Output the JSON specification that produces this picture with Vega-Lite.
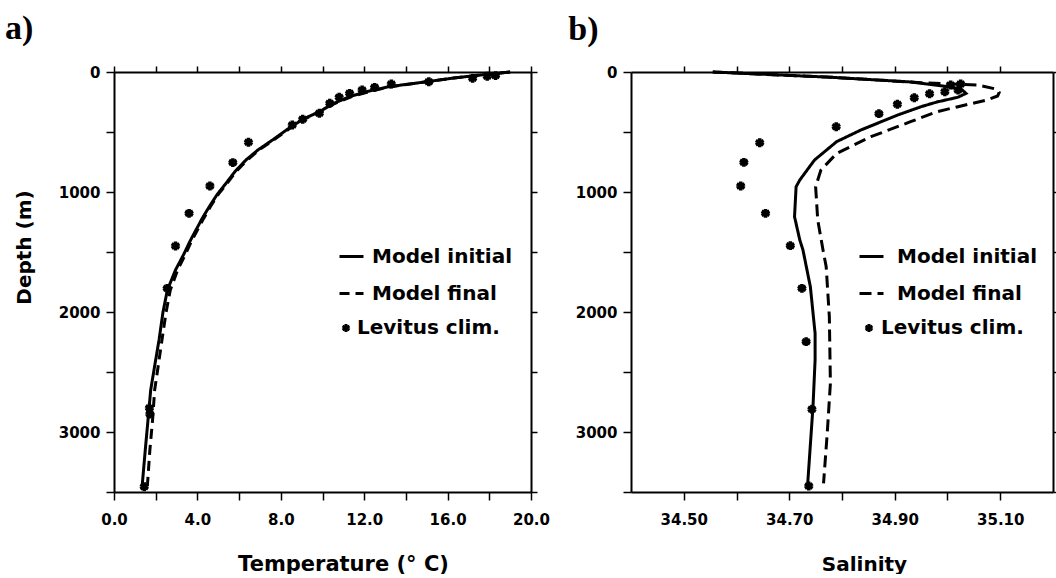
{
  "$schema": "https://vega.github.io/schema/vega-lite/v6.json",
  "background": "white",
  "padding": {"left": 5, "top": 12, "right": 0, "bottom": 0},
  "config": {
    "view": {"stroke": null},
    "font": "DejaVu Sans",
    "axis": {
      "domainColor": "black", "domainWidth": 2, "tickColor": "black", "tickWidth": 1.5, "tickSize": 8,
      "labelFont": "DejaVu Sans", "labelFontWeight": "bold", "labelFontSize": 15, "labelColor": "black",
      "labelFlush": false, "labelOverlap": false,
      "titleFont": "DejaVu Sans", "titleFontWeight": "bold", "titleFontSize": 20, "titleColor": "black",
      "grid": false
    },
    "legend": {
      "orient": "none", "padding": 0, "labelFont": "DejaVu Sans", "labelFontWeight": "bold",
      "labelFontSize": 20, "labelColor": "black", "title": null
    },
    "title": {"font": "Liberation Serif", "fontSize": 34, "fontWeight": "bold", "color": "black", "anchor": "start", "frame": "bounds"}
  },
  "spacing": 18,
  "resolve": {
    "scale": {"strokeDash": "independent", "shape": "independent"},
    "legend": {"strokeDash": "independent", "shape": "independent"}
  },
  "datasets": {
    "temperature": [
      {"series": "Model initial", "depth": 0, "temperature": 19.0},
      {"series": "Model initial", "depth": 25, "temperature": 17.6},
      {"series": "Model initial", "depth": 50, "temperature": 16.3},
      {"series": "Model initial", "depth": 81, "temperature": 15.0},
      {"series": "Model initial", "depth": 122, "temperature": 13.2},
      {"series": "Model initial", "depth": 160, "temperature": 12.2},
      {"series": "Model initial", "depth": 205, "temperature": 11.3},
      {"series": "Model initial", "depth": 265, "temperature": 10.5},
      {"series": "Model initial", "depth": 330, "temperature": 9.86},
      {"series": "Model initial", "depth": 390, "temperature": 9.1},
      {"series": "Model initial", "depth": 455, "temperature": 8.5},
      {"series": "Model initial", "depth": 567, "temperature": 7.6},
      {"series": "Model initial", "depth": 650, "temperature": 6.9},
      {"series": "Model initial", "depth": 733, "temperature": 6.33},
      {"series": "Model initial", "depth": 830, "temperature": 5.8},
      {"series": "Model initial", "depth": 928, "temperature": 5.37},
      {"series": "Model initial", "depth": 1020, "temperature": 4.95},
      {"series": "Model initial", "depth": 1122, "temperature": 4.57},
      {"series": "Model initial", "depth": 1220, "temperature": 4.23},
      {"series": "Model initial", "depth": 1317, "temperature": 3.93},
      {"series": "Model initial", "depth": 1415, "temperature": 3.63},
      {"series": "Model initial", "depth": 1511, "temperature": 3.37},
      {"series": "Model initial", "depth": 1650, "temperature": 2.95},
      {"series": "Model initial", "depth": 1817, "temperature": 2.56},
      {"series": "Model initial", "depth": 2000, "temperature": 2.35},
      {"series": "Model initial", "depth": 2233, "temperature": 2.16},
      {"series": "Model initial", "depth": 2450, "temperature": 1.95},
      {"series": "Model initial", "depth": 2650, "temperature": 1.76},
      {"series": "Model initial", "depth": 2900, "temperature": 1.63},
      {"series": "Model initial", "depth": 3150, "temperature": 1.5},
      {"series": "Model initial", "depth": 3450, "temperature": 1.35},
      {"series": "Model final", "depth": 0, "temperature": 19.0},
      {"series": "Model final", "depth": 25, "temperature": 17.6},
      {"series": "Model final", "depth": 50, "temperature": 16.3},
      {"series": "Model final", "depth": 81, "temperature": 15.0},
      {"series": "Model final", "depth": 122, "temperature": 13.3},
      {"series": "Model final", "depth": 160, "temperature": 12.3},
      {"series": "Model final", "depth": 205, "temperature": 11.4},
      {"series": "Model final", "depth": 265, "temperature": 10.55},
      {"series": "Model final", "depth": 330, "temperature": 9.9},
      {"series": "Model final", "depth": 390, "temperature": 9.15},
      {"series": "Model final", "depth": 455, "temperature": 8.55},
      {"series": "Model final", "depth": 567, "temperature": 7.65},
      {"series": "Model final", "depth": 650, "temperature": 6.95},
      {"series": "Model final", "depth": 733, "temperature": 6.4},
      {"series": "Model final", "depth": 830, "temperature": 5.85},
      {"series": "Model final", "depth": 928, "temperature": 5.42},
      {"series": "Model final", "depth": 1020, "temperature": 5.0},
      {"series": "Model final", "depth": 1122, "temperature": 4.62},
      {"series": "Model final", "depth": 1220, "temperature": 4.3},
      {"series": "Model final", "depth": 1317, "temperature": 4.0},
      {"series": "Model final", "depth": 1415, "temperature": 3.7},
      {"series": "Model final", "depth": 1511, "temperature": 3.45},
      {"series": "Model final", "depth": 1650, "temperature": 3.05},
      {"series": "Model final", "depth": 1817, "temperature": 2.7},
      {"series": "Model final", "depth": 2000, "temperature": 2.5},
      {"series": "Model final", "depth": 2233, "temperature": 2.3},
      {"series": "Model final", "depth": 2450, "temperature": 2.12},
      {"series": "Model final", "depth": 2650, "temperature": 1.95},
      {"series": "Model final", "depth": 2900, "temperature": 1.85},
      {"series": "Model final", "depth": 3150, "temperature": 1.72},
      {"series": "Model final", "depth": 3450, "temperature": 1.6},
      {"series": "Levitus clim.", "depth": 30, "temperature": 18.3},
      {"series": "Levitus clim.", "depth": 35, "temperature": 17.9},
      {"series": "Levitus clim.", "depth": 53, "temperature": 17.2},
      {"series": "Levitus clim.", "depth": 81, "temperature": 15.1},
      {"series": "Levitus clim.", "depth": 100, "temperature": 13.3},
      {"series": "Levitus clim.", "depth": 128, "temperature": 12.5},
      {"series": "Levitus clim.", "depth": 150, "temperature": 11.9},
      {"series": "Levitus clim.", "depth": 178, "temperature": 11.3},
      {"series": "Levitus clim.", "depth": 211, "temperature": 10.8},
      {"series": "Levitus clim.", "depth": 261, "temperature": 10.35},
      {"series": "Levitus clim.", "depth": 344, "temperature": 9.85},
      {"series": "Levitus clim.", "depth": 394, "temperature": 9.05},
      {"series": "Levitus clim.", "depth": 442, "temperature": 8.55},
      {"series": "Levitus clim.", "depth": 586, "temperature": 6.45},
      {"series": "Levitus clim.", "depth": 755, "temperature": 5.7},
      {"series": "Levitus clim.", "depth": 950, "temperature": 4.6},
      {"series": "Levitus clim.", "depth": 1178, "temperature": 3.6},
      {"series": "Levitus clim.", "depth": 1450, "temperature": 2.95},
      {"series": "Levitus clim.", "depth": 1803, "temperature": 2.55},
      {"series": "Levitus clim.", "depth": 2800, "temperature": 1.7},
      {"series": "Levitus clim.", "depth": 2850, "temperature": 1.72},
      {"series": "Levitus clim.", "depth": 3456, "temperature": 1.45}
    ],
    "salinity": [
      {"series": "Model initial", "depth": 0, "salinity": 34.555},
      {"series": "Model initial", "depth": 44, "salinity": 34.78},
      {"series": "Model initial", "depth": 83, "salinity": 34.93},
      {"series": "Model initial", "depth": 122, "salinity": 35.0},
      {"series": "Model initial", "depth": 150, "salinity": 35.028},
      {"series": "Model initial", "depth": 178, "salinity": 35.035},
      {"series": "Model initial", "depth": 210, "salinity": 35.02},
      {"series": "Model initial", "depth": 250, "salinity": 34.98},
      {"series": "Model initial", "depth": 289, "salinity": 34.95},
      {"series": "Model initial", "depth": 358, "salinity": 34.906},
      {"series": "Model initial", "depth": 483, "salinity": 34.836},
      {"series": "Model initial", "depth": 580, "salinity": 34.79},
      {"series": "Model initial", "depth": 733, "salinity": 34.748},
      {"series": "Model initial", "depth": 900, "salinity": 34.72},
      {"series": "Model initial", "depth": 956, "salinity": 34.713},
      {"series": "Model initial", "depth": 1206, "salinity": 34.71},
      {"series": "Model initial", "depth": 1400, "salinity": 34.72},
      {"series": "Model initial", "depth": 1483, "salinity": 34.726},
      {"series": "Model initial", "depth": 1789, "salinity": 34.74},
      {"series": "Model initial", "depth": 2178, "salinity": 34.749},
      {"series": "Model initial", "depth": 2400, "salinity": 34.749},
      {"series": "Model initial", "depth": 2789, "salinity": 34.745},
      {"series": "Model initial", "depth": 3428, "salinity": 34.735},
      {"series": "Model final", "depth": 0, "salinity": 34.555},
      {"series": "Model final", "depth": 44, "salinity": 34.78},
      {"series": "Model final", "depth": 89, "salinity": 34.95},
      {"series": "Model final", "depth": 108, "salinity": 35.057},
      {"series": "Model final", "depth": 140, "salinity": 35.09},
      {"series": "Model final", "depth": 170, "salinity": 35.098},
      {"series": "Model final", "depth": 200, "salinity": 35.095},
      {"series": "Model final", "depth": 233, "salinity": 35.075},
      {"series": "Model final", "depth": 289, "salinity": 35.02},
      {"series": "Model final", "depth": 331, "salinity": 34.98},
      {"series": "Model final", "depth": 414, "salinity": 34.93},
      {"series": "Model final", "depth": 539, "salinity": 34.855},
      {"series": "Model final", "depth": 678, "salinity": 34.79},
      {"series": "Model final", "depth": 817, "salinity": 34.76},
      {"series": "Model final", "depth": 956, "salinity": 34.75},
      {"series": "Model final", "depth": 1233, "salinity": 34.754},
      {"series": "Model final", "depth": 1483, "salinity": 34.764},
      {"series": "Model final", "depth": 1622, "salinity": 34.77},
      {"series": "Model final", "depth": 2039, "salinity": 34.776},
      {"series": "Model final", "depth": 2594, "salinity": 34.778},
      {"series": "Model final", "depth": 3011, "salinity": 34.772},
      {"series": "Model final", "depth": 3428, "salinity": 34.765},
      {"series": "Levitus clim.", "depth": 100, "salinity": 35.025},
      {"series": "Levitus clim.", "depth": 108, "salinity": 35.006},
      {"series": "Levitus clim.", "depth": 150, "salinity": 35.02},
      {"series": "Levitus clim.", "depth": 164, "salinity": 34.995},
      {"series": "Levitus clim.", "depth": 182, "salinity": 34.966},
      {"series": "Levitus clim.", "depth": 215, "salinity": 34.937},
      {"series": "Levitus clim.", "depth": 268, "salinity": 34.905},
      {"series": "Levitus clim.", "depth": 347, "salinity": 34.87},
      {"series": "Levitus clim.", "depth": 456, "salinity": 34.789},
      {"series": "Levitus clim.", "depth": 589, "salinity": 34.644},
      {"series": "Levitus clim.", "depth": 753, "salinity": 34.614},
      {"series": "Levitus clim.", "depth": 950, "salinity": 34.608},
      {"series": "Levitus clim.", "depth": 1178, "salinity": 34.655},
      {"series": "Levitus clim.", "depth": 1447, "salinity": 34.702},
      {"series": "Levitus clim.", "depth": 1803, "salinity": 34.724},
      {"series": "Levitus clim.", "depth": 2247, "salinity": 34.732},
      {"series": "Levitus clim.", "depth": 2811, "salinity": 34.743},
      {"series": "Levitus clim.", "depth": 3450, "salinity": 34.737}
    ]
  },
  "hconcat": [
    {
      "title": {"text": "a)", "offset": 18, "dx": -9},
      "width": 417,
      "height": 420,
      "data": {"name": "temperature"},
      "resolve": {"axis": {"x": "independent", "y": "independent"}},
      "layer": [
        {
          "transform": [{"filter": "datum.series !== 'Levitus clim.'"}],
          "mark": {"type": "line", "color": "black", "strokeWidth": 3},
          "encoding": {
            "x": {"field": "temperature", "type": "quantitative", "scale": {"domain": [0, 20], "nice": false, "zero": false},
              "axis": {"orient": "bottom", "values": [0, 2, 4, 6, 8, 10, 12, 14, 16, 18, 20], "labelExpr": "datum.value % 4 === 0 ? format(datum.value, '.1f') : ''", "labelPadding": 12, "title": "Temperature (° C)", "titleFontSize": 21, "titlePadding": 26, "titleX": 229}},
            "y": {"field": "depth", "type": "quantitative", "scale": {"domain": [0, 3500], "reverse": true, "nice": false},
              "axis": {"orient": "left", "values": [0, 500, 1000, 1500, 2000, 2500, 3000, 3500], "labelExpr": "datum.value % 1000 === 0 ? datum.label : ''", "format": "d", "labelPadding": 6, "title": "Depth (m)", "titleX": -80, "titleY": 175}},
            "strokeDash": {"field": "series", "type": "nominal", "scale": {"domain": ["Model initial", "Model final"], "range": [[1, 0], [10, 6]]},
              "legend": {"orient": "none", "legendX": 224, "legendY": 171, "rowPadding": 13, "symbolType": "stroke", "symbolSize": 576, "symbolStrokeWidth": 3, "symbolStrokeColor": "black", "labelOffset": 7}},
            "order": {"field": "depth", "type": "quantitative"}
          }
        },
        {
          "transform": [{"filter": "datum.series === 'Levitus clim.'"}],
          "mark": {"type": "point", "filled": false, "color": "black", "strokeWidth": 3.5, "size": 80, "opacity": 1},
          "encoding": {
            "x": {"field": "temperature", "type": "quantitative",
              "axis": {"orient": "top", "values": [0, 2, 4, 6, 8, 10, 12, 14, 16, 18, 20], "labels": false, "title": null, "tickSize": 6}},
            "y": {"field": "depth", "type": "quantitative",
              "axis": {"orient": "right", "values": [0, 500, 1000, 1500, 2000, 2500, 3000, 3500], "labels": false, "title": null, "tickSize": 6}},
            "shape": {"field": "series", "type": "nominal", "scale": {"domain": ["Levitus clim."], "range": ["M0,-1L0,1M-0.87,-0.5L0.87,0.5M-0.87,0.5L0.87,-0.5"]},
              "legend": {"orient": "none", "legendX": 222, "legendY": 246, "symbolSize": 64, "symbolStrokeWidth": 3, "symbolStrokeColor": "black", "labelOffset": 1}}
          }
        }
      ]
    },
    {
      "title": {"text": "b)", "offset": 18, "dx": -7},
      "width": 422,
      "height": 420,
      "data": {"name": "salinity"},
      "resolve": {"axis": {"x": "independent", "y": "independent"}},
      "layer": [
        {
          "transform": [{"filter": "datum.series !== 'Levitus clim.'"}],
          "mark": {"type": "line", "color": "black", "strokeWidth": 3},
          "encoding": {
            "x": {"field": "salinity", "type": "quantitative", "scale": {"domain": [34.4, 35.2], "nice": false, "zero": false},
              "axis": {"orient": "bottom", "values": [34.5, 34.6, 34.7, 34.8, 34.9, 35.0, 35.1], "labelExpr": "(round(datum.value * 10) % 2 === 1) ? format(datum.value, '.2f') : ''", "labelPadding": 12, "title": "Salinity", "titlePadding": 27, "titleX": 233}},
            "y": {"field": "depth", "type": "quantitative", "scale": {"domain": [0, 3500], "reverse": true, "nice": false},
              "axis": {"orient": "left", "values": [0, 500, 1000, 1500, 2000, 2500, 3000, 3500], "labelExpr": "datum.value % 1000 === 0 ? datum.label : ''", "format": "d", "labelPadding": 6, "title": null}},
            "strokeDash": {"field": "series", "type": "nominal", "scale": {"domain": ["Model initial", "Model final"], "range": [[1, 0], [12, 6]]},
              "legend": {"orient": "none", "legendX": 227, "legendY": 171, "rowPadding": 13, "symbolType": "stroke", "symbolSize": 576, "symbolStrokeWidth": 3, "symbolStrokeColor": "black", "labelOffset": 12}},
            "order": {"field": "depth", "type": "quantitative"}
          }
        },
        {
          "transform": [{"filter": "datum.series === 'Levitus clim.'"}],
          "mark": {"type": "point", "filled": false, "color": "black", "strokeWidth": 3.5, "size": 80, "opacity": 1},
          "encoding": {
            "x": {"field": "salinity", "type": "quantitative",
              "axis": {"orient": "top", "values": [34.5, 34.6, 34.7, 34.8, 34.9, 35.0, 35.1], "labels": false, "title": null, "tickSize": 6}},
            "y": {"field": "depth", "type": "quantitative",
              "axis": {"orient": "right", "values": [0, 500, 1000, 1500, 2000, 2500, 3000, 3500], "labels": false, "title": null, "tickSize": 6}},
            "shape": {"field": "series", "type": "nominal", "scale": {"domain": ["Levitus clim."], "range": ["M0,-1L0,1M-0.87,-0.5L0.87,0.5M-0.87,0.5L0.87,-0.5"]},
              "legend": {"orient": "none", "legendX": 228, "legendY": 246, "symbolSize": 64, "symbolStrokeWidth": 3, "symbolStrokeColor": "black", "labelOffset": 2}}
          }
        }
      ]
    }
  ]
}
